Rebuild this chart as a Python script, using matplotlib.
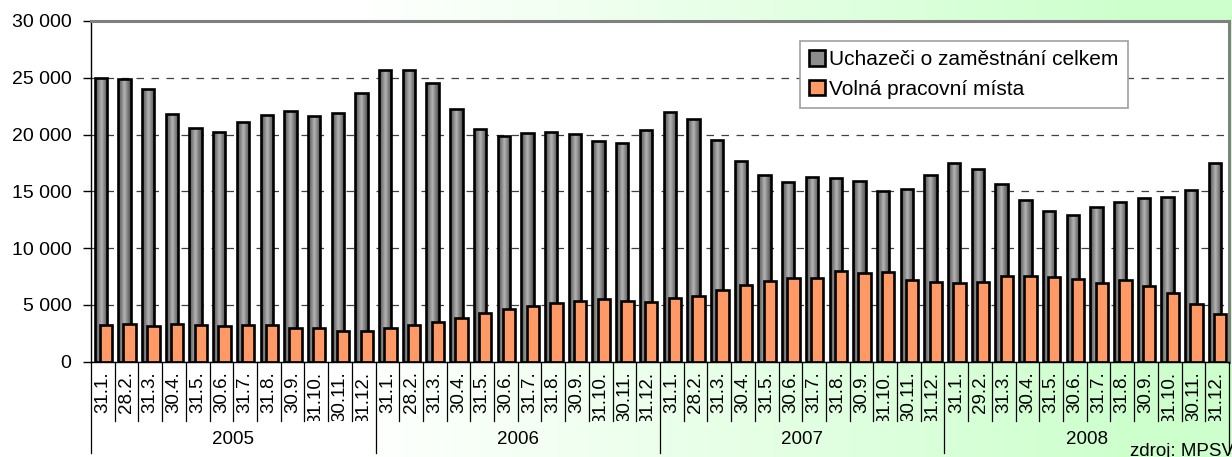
import numpy as np
import matplotlib
matplotlib.use("Agg")
import matplotlib.pyplot as plt
from matplotlib.ticker import FuncFormatter, MultipleLocator
from matplotlib.patches import Patch
from matplotlib.colors import to_rgb
from matplotlib.transforms import Bbox, TransformedBbox, blended_transform_factory

plt.rcParams['font.family'] = ['Liberation Sans', 'DejaVu Sans']

years = ["2005", "2006", "2007", "2008"]
dates_regular = ["31.1.", "28.2.", "31.3.", "30.4.", "31.5.", "30.6.", "31.7.", "31.8.",
                 "30.9.", "31.10.", "30.11.", "31.12."]
dates_2008 = ["31.1.", "29.2.", "31.3.", "30.4.", "31.5.", "30.6.", "31.7.", "31.8.",
              "30.9.", "31.10.", "30.11.", "31.12."]
tick_labels = dates_regular * 3 + dates_2008

uchazeci = [24950, 24890, 23990, 21840, 20600, 20230, 21080, 21720, 22050, 21610, 21900, 23630,
            25660, 25660, 24570, 22250, 20520, 19850, 20160, 20230, 20050, 19430, 19260, 20430,
            21990, 21370, 19520, 17670, 16470, 15850, 16290, 16200, 15910, 15060, 15180, 16470,
            17470, 16940, 15670, 14240, 13270, 12920, 13620, 14040, 14440, 14500, 15120, 17520]
volna = [3230, 3320, 3140, 3290, 3260, 3110, 3200, 3200, 2990, 2940, 2700, 2670,
         2990, 3230, 3520, 3850, 4260, 4670, 4880, 5200, 5340, 5520, 5340, 5230,
         5580, 5750, 6310, 6720, 7130, 7400, 7340, 7990, 7840, 7900, 7170, 6990,
         6930, 7020, 7570, 7550, 7490, 7280, 6900, 7190, 6690, 6020, 5050, 4170]

series_names = ["Uchazeči o zaměstnání celkem", "Volná pracovní místa"]

W, H = 1232, 457
fig = plt.figure(figsize=(W / 100, H / 100), dpi=100)
fig.patch.set_facecolor("white")

# background gradient
bg = fig.add_axes([0, 0, 1, 1], zorder=-10)
xs = np.linspace(0, 1, 400)
t = np.clip((xs - 0.29) / 0.64, 0, 1)
c0 = np.array(to_rgb("#ffffff"))
c1 = np.array(to_rgb("#ccffcc"))
grad = (c0[None, :] * (1 - t[:, None]) + c1[None, :] * t[:, None])[None, :, :]
bg.imshow(grad, aspect="auto", extent=(0, 1, 0, 1))
bg.set_axis_off()

x0px, x1px, ytop, ybot = 91, 1229, 21, 361.7
ax = fig.add_axes([x0px / W, 1 - ybot / H, (x1px - x0px) / W, (ybot - ytop) / H], zorder=1)
ax.set_facecolor("white")

n = len(uchazeci)
x = np.arange(n)
bw = 0.52


def gradient_fill(patches, edge_c, center_c, z):
    ce = np.array(to_rgb(edge_c))
    cc = np.array(to_rgb(center_c))
    prof = 1 - np.abs(np.linspace(-1, 1, 64))
    img = (ce[None, :] * (1 - prof[:, None]) + cc[None, :] * prof[:, None])[None, :, :]
    for p in patches:
        bx, by = p.get_x(), p.get_y()
        im = ax.imshow(img, extent=(bx, bx + p.get_width(), by, by + p.get_height()),
                       aspect="auto", zorder=z, interpolation="bilinear")
        im.set_clip_path(p)


b1 = ax.bar(x - 0.09, uchazeci, width=bw, facecolor="none", edgecolor="black",
            linewidth=1.9, zorder=2.1)
gradient_fill(b1, "#4a4a4a", "#b4b4b4", 2.0)
b2 = ax.bar(x + 0.13, volna, width=bw, facecolor="#ff9966", edgecolor="black",
            linewidth=1.9, zorder=2.3)
gradient_fill(b2, "#ff8548", "#ffb894", 2.2)

ax.set_xlim(-0.5, n - 0.5)
ax.set_ylim(0, 30000)
ax.yaxis.set_major_locator(MultipleLocator(5000))
ax.yaxis.set_major_formatter(FuncFormatter(lambda v, p: f"{v:,.0f}".replace(",", " ")))
ax.grid(axis="y", color="#404040", linestyle=(0, (6, 6)), linewidth=0.9, zorder=1)
ax.set_axisbelow(True)
ax.tick_params(axis="y", length=6, width=1, pad=8, labelsize=14, direction="out")

ax.set_xticks(x)
ax.set_xticklabels(tick_labels, rotation=90, fontsize=13.5, va="top", ha="center")
ax.tick_params(axis="x", length=0, pad=7)

clipbox = TransformedBbox(Bbox([[0, 1 - 421 / H], [1, 1 - ybot / H]]), fig.transFigure)
for lab in ax.get_xticklabels():
    lab.set_clip_on(True)
    lab.set_clip_box(clipbox)

for s in ["top", "right"]:
    ax.spines[s].set_color("#808080")
    ax.spines[s].set_linewidth(2.2)
for s in ["left", "bottom"]:
    ax.spines[s].set_color("black")
    ax.spines[s].set_linewidth(1)

trans = blended_transform_factory(ax.transData, ax.transAxes)
axh = ybot - ytop
short = (ybot - 421) / axh
long_ = (ybot - 453) / axh
for b in range(n + 1):
    xb = b - 0.5
    yend = long_ if b % 12 == 0 else short
    ax.plot([xb, xb], [0, yend], color="black", lw=0.9, transform=trans, clip_on=False, zorder=3)

ylab = (ybot - 440) / axh
for i, yr in enumerate(years):
    ax.text(i * 12 + 5.5, ylab, yr, transform=trans, ha="center", va="center", fontsize=13.5)

handles = [Patch(facecolor="#8c8c8c", edgecolor="black", linewidth=1.9),
           Patch(facecolor="#ff9966", edgecolor="black", linewidth=1.9)]
leg = ax.legend(handles, series_names, loc="upper left",
                bbox_to_anchor=((800 - x0px) / (x1px - x0px), (ybot - 41) / axh),
                borderaxespad=0, fontsize=15, frameon=True, fancybox=False,
                handlelength=0.75, handleheight=0.75, handletextpad=0.2,
                labelspacing=0.5, borderpad=0.45)
leg.get_frame().set_edgecolor("#a0a0a0")
leg.get_frame().set_linewidth(1.2)
leg.get_frame().set_facecolor("white")
leg.get_frame().set_alpha(1)
leg.set_zorder(5)

fig.text(1130 / W, 1 - 443 / H, "zdroj: MPSV", ha="left", va="top", fontsize=13.5)

fig.savefig("out.png", dpi=100)
